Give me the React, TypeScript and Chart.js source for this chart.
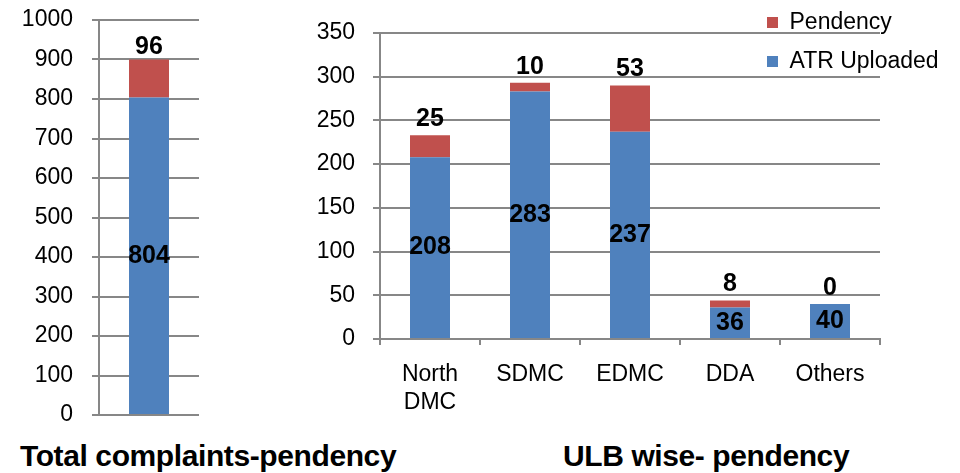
import React, { useEffect, useRef } from "react";
import { Chart, registerables } from "chart.js";

Chart.register(...registerables);

// ---- data ----
const totalCategories = ["Total"];
const totalAtr = [804];
const totalPendency = [96];

const ulbCategories: (string | string[])[] = [["North", "DMC"], "SDMC", "EDMC", "DDA", "Others"];
const ulbAtr = [208, 283, 237, 36, 40];
const ulbPendency = [25, 10, 53, 8, 0];

const seriesAtr = "ATR Uploaded";
const seriesPendency = "Pendency";

const totalTitle = "Total complaints-pendency";
const ulbTitle = "ULB wise- pendency";

// ---- style ----
const BLUE = "#4F81BD";
const RED = "#C0504D";
const GRID = "#878787";
const FONT = '"Liberation Sans", Arial, sans-serif';

const valueLabels = {
  id: "valueLabels",
  afterDatasetsDraw(chart: any, _args: any, opts: any) {
    const ctx = chart.ctx;
    ctx.save();
    ctx.font = `bold ${opts.size || 24}px ${FONT}`;
    ctx.fillStyle = "#000";
    ctx.textAlign = "center";
    ctx.textBaseline = "middle";
    chart.data.datasets.forEach((ds: any, di: number) => {
      const meta = chart.getDatasetMeta(di);
      meta.data.forEach((bar: any, i: number) => {
        const v = ds.data[i];
        const p = bar.getProps(["x", "y", "base"], true);
        if (di === 0) {
          ctx.fillText(String(v), p.x, (p.y + p.base) / 2);
        } else {
          ctx.fillText(String(v), p.x, p.y - (opts.offset || 15));
        }
      });
    });
    ctx.restore();
  },
};

function yScale(max: number, step: number, width: number, pad: number) {
  return {
    stacked: true,
    min: 0,
    max,
    ticks: {
      stepSize: step,
      color: "#000",
      padding: pad,
      font: { family: FONT, size: 23 },
      callback: (v: any) => String(v),
    },
    grid: { color: GRID, lineWidth: 2, tickLength: 7, drawTicks: true },
    border: { display: true, color: GRID, width: 2 },
    afterFit: (s: any) => {
      s.width = width;
      s.paddingTop = 0;
      s.paddingBottom = 0;
    },
  };
}

export default function App() {
  const leftRef = useRef<HTMLCanvasElement>(null);
  const rightRef = useRef<HTMLCanvasElement>(null);
  const legendRef = useRef<HTMLCanvasElement>(null);

  useEffect(() => {
    const left = new Chart(leftRef.current!, {
      type: "bar",
      data: {
        labels: totalCategories,
        datasets: [
          { label: seriesAtr, data: totalAtr, backgroundColor: BLUE, barPercentage: 0.4, categoryPercentage: 1 },
          { label: seriesPendency, data: totalPendency, backgroundColor: RED, barPercentage: 0.4, categoryPercentage: 1 },
        ],
      },
      options: {
        responsive: false,
        animation: false,
        devicePixelRatio: 1,
        layout: { padding: { left: 0, right: 31, top: 20, bottom: 0 } },
        scales: {
          x: {
            stacked: true,
            display: true,
            ticks: { display: false },
            grid: { display: false },
            border: { display: false },
            afterFit: (s: any) => {
              s.height = 15;
            },
          } as any,
          y: yScale(1000, 100, 99, 19) as any,
        },
        plugins: {
          legend: { display: false },
          tooltip: { enabled: false },
          valueLabels: { size: 25, offset: 12 },
        } as any,
      },
      plugins: [valueLabels],
    });

    const right = new Chart(rightRef.current!, {
      type: "bar",
      data: {
        labels: ulbCategories as any,
        datasets: [
          { label: seriesAtr, data: ulbAtr, backgroundColor: BLUE, barPercentage: 0.4, categoryPercentage: 1 },
          { label: seriesPendency, data: ulbPendency, backgroundColor: RED, barPercentage: 0.4, categoryPercentage: 1 },
        ],
      },
      options: {
        responsive: false,
        animation: false,
        devicePixelRatio: 1,
        layout: { padding: { left: 0, right: 40, top: 33, bottom: 0 } },
        scales: {
          x: {
            stacked: true,
            ticks: { color: "#000", padding: 16, font: { family: FONT, size: 23, lineHeight: 1.22 } },
            grid: { drawOnChartArea: false, drawTicks: true, tickLength: 6, color: GRID, lineWidth: 2 },
            border: { display: true, color: GRID, width: 2 },
            afterFit: (s: any) => {
              s.height = 91;
            },
          } as any,
          y: yScale(350, 50, 80, 18) as any,
        },
        plugins: {
          legend: { display: false },
          tooltip: { enabled: false },
          valueLabels: { size: 25, offset: 16 },
        } as any,
      },
      plugins: [valueLabels],
    });

    const legend = new Chart(legendRef.current!, {
      type: "bar",
      data: {
        labels: [],
        datasets: [
          { label: seriesPendency, data: [], backgroundColor: RED },
          { label: seriesAtr, data: [], backgroundColor: BLUE },
        ],
      },
      options: {
        responsive: false,
        animation: false,
        devicePixelRatio: 1,
        layout: { padding: 0 },
        scales: { x: { display: false }, y: { display: false } },
        plugins: {
          tooltip: { enabled: false },
          legend: {
            position: "top",
            align: "start",
            labels: {
              boxWidth: 11,
              boxHeight: 11,
              padding: 16,
              color: "#000",
              font: { family: FONT, size: 23 },
            },
          },
        },
      },
    });

    return () => {
      left.destroy();
      right.destroy();
      legend.destroy();
    };
  }, []);

  const titleStyle: React.CSSProperties = {
    position: "absolute",
    fontFamily: FONT,
    fontWeight: "bold",
    fontSize: 30,
    lineHeight: "30px",
    letterSpacing: "-0.4px",
    color: "#000",
    whiteSpace: "nowrap",
  };

  return (
    <div
      style={{
        position: "absolute",
        left: 0,
        top: 0,
        width: 960,
        height: 473,
        overflow: "hidden",
        background: "#fff",
      }}
    >
      <canvas ref={leftRef} width={230} height={430} style={{ position: "absolute", left: 0, top: 0 }} />
      <canvas ref={rightRef} width={620} height={430} style={{ position: "absolute", left: 300, top: 0 }} />
      <canvas ref={legendRef} width={210} height={210} style={{ position: "absolute", left: 751, top: -5 }} />
      <div style={{ ...titleStyle, left: 20, top: 441 }}>{totalTitle}</div>
      <div style={{ ...titleStyle, left: 563, top: 441 }}>{ulbTitle}</div>
    </div>
  );
}
